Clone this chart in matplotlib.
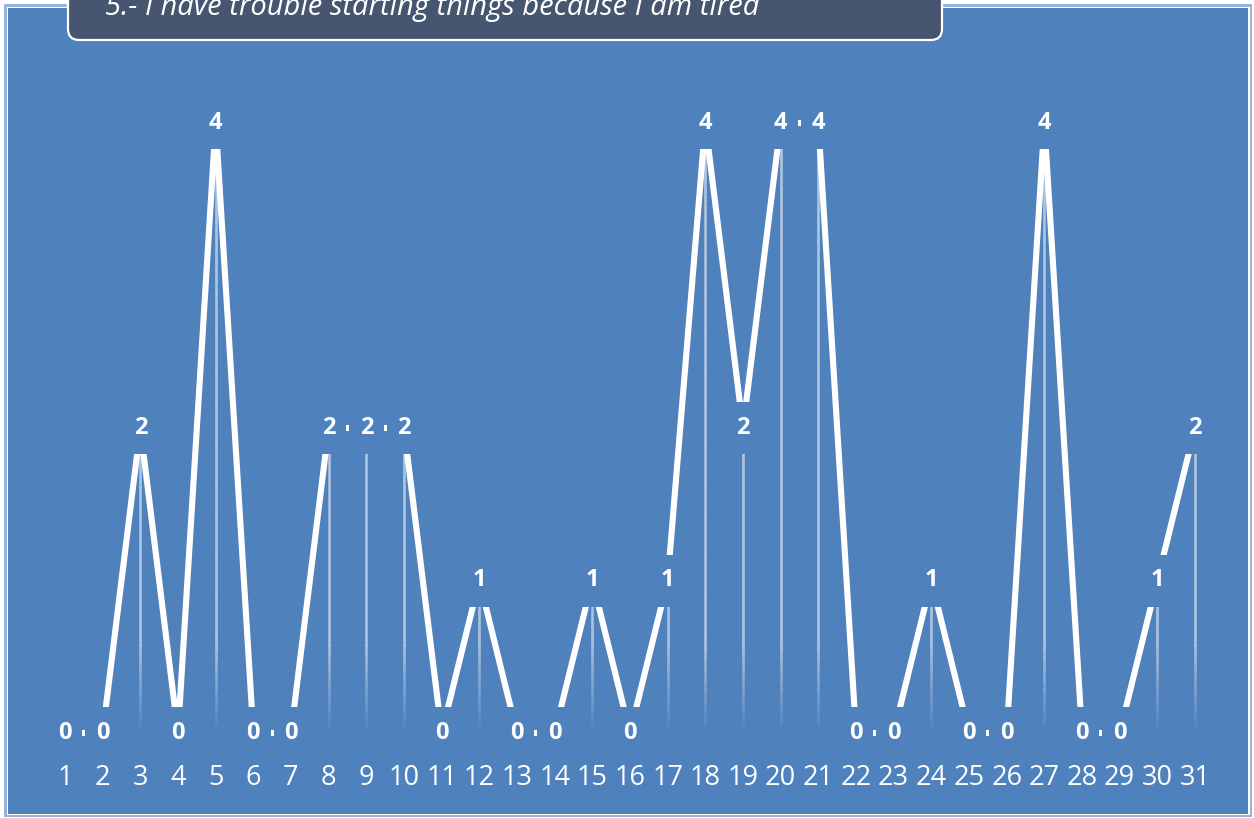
import matplotlib
matplotlib.use("Agg")
import matplotlib.pyplot as plt
import numpy as np
from matplotlib.patches import Rectangle, FancyBboxPatch
from matplotlib.collections import LineCollection
from matplotlib.transforms import IdentityTransform

# ---- data ----
days = list(range(1, 32))
values = [0, 0, 2, 0, 4, 0, 0, 2, 2, 2, 0, 1, 0, 0, 1, 0, 1, 4, 2, 4,
          4, 0, 0, 1, 0, 0, 4, 0, 0, 1, 2]
tick_labels = [str(d) for d in days]
title = "5.- I have trouble starting things because I am tired"

# ---- style ----
W, H = 1254, 818
BG = "#4F81BD"
BORDER = "#95B3D7"
TITLE_BG = "#465670"
FONT = "Open Sans"

fig = plt.figure(figsize=(W / 100, H / 100), dpi=100, facecolor="white")

def fx(x):
    return x / W

def fy(y):
    return 1 - y / H

# frame
fig.patches.append(Rectangle((fx(4), fy(817)), fx(1248), (817 - 4) / H,
                             transform=fig.transFigure, facecolor=BORDER,
                             edgecolor="none", zorder=-10))
fig.patches.append(Rectangle((fx(6.5), fy(815)), fx(1243), (815 - 6.5) / H,
                             transform=fig.transFigure, facecolor="white",
                             edgecolor="none", zorder=-9))
fig.patches.append(Rectangle((fx(8), fy(814)), fx(1240), (814 - 8) / H,
                             transform=fig.transFigure, facecolor=BG,
                             edgecolor="none", zorder=-8))

# axes: value 0 sits 85 px above the bottom; 1 unit = 152.5 px; day 1 at x=65 px
ax = fig.add_axes([0, 85 / H, 1, 1 - 85 / H])
ax.set_facecolor("none")
ppx = 1130 / 30
ax.set_xlim(1 - 65 / ppx, 1 + (W - 65) / ppx)
ax.set_ylim(0, (H - 85) / 152.5)
for s in ax.spines.values():
    s.set_visible(False)
ax.set_yticks([])
ax.set_xticks(days)
ax.set_xticklabels(tick_labels, fontsize=19.5, color="white", family=FONT)
ax.tick_params(axis="x", length=0, pad=22)

# drop lines with fading
segs, cols = [], []
n = 60
for d, v in zip(days, values):
    if v <= 0:
        continue
    ys = np.linspace(0, v, n + 1)
    for i in range(n):
        y0, y1 = ys[i], ys[i + 1]
        a = 0.55 * min(1.0, ((y0 + y1) / 2) / 0.6)
        segs.append([(d, y0), (d, y1)])
        cols.append((1, 1, 1, a))
ax.add_collection(LineCollection(segs, colors=cols, linewidths=1.9, zorder=1))

# main line
ax.plot(days, values, color="white", lw=4.4, solid_joinstyle="miter",
        solid_capstyle="butt", zorder=2, clip_on=False)

# label masks + labels
mw = 0.92
mh = 52 / 152.5
for d, v in zip(days, values):
    ax.add_patch(Rectangle((d - mw / 2, v - mh / 2), mw, mh, facecolor=BG,
                           edgecolor="none", zorder=3, clip_on=False))
    ax.text(d, v, str(v), ha="center", va="center", color="white",
            fontsize=17, fontweight="bold", family=FONT, zorder=4)

# title box
fig.patches.append(FancyBboxPatch((68, H - 40), 874, 80,
                                  boxstyle="round,pad=0,rounding_size=11",
                                  transform=IdentityTransform(),
                                  facecolor=TITLE_BG, edgecolor="white",
                                  linewidth=1.6, zorder=10))
fig.text(fx(105), fy(15), title, ha="left", va="baseline", color="white",
         fontsize=21, style="italic", family=FONT, zorder=11)

fig.savefig("out.png", dpi=100, facecolor="white")
